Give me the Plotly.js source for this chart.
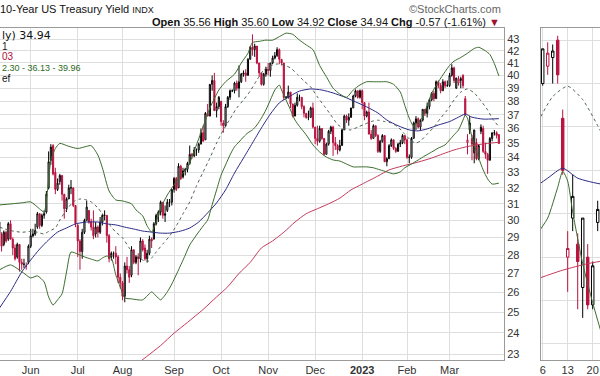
<!DOCTYPE html>
<html><head><meta charset="utf-8">
<script src="https://cdn.plot.ly/plotly-3.0.1.min.js"></script>
<style>html,body{margin:0;padding:0;background:#fff;}#chart{width:600px;height:376px;}</style>
</head><body><div id="chart"></div>
<script>
// ---- Daily candles: $TNX (yield x10) ----
const dates = [
'2022-05-11','2022-05-12','2022-05-13','2022-05-16','2022-05-17','2022-05-18','2022-05-19','2022-05-20','2022-05-23','2022-05-24','2022-05-25','2022-05-26','2022-05-27','2022-05-31',
'2022-06-01','2022-06-02','2022-06-03','2022-06-06','2022-06-07','2022-06-08','2022-06-09','2022-06-10','2022-06-13','2022-06-14','2022-06-15','2022-06-16','2022-06-17','2022-06-21','2022-06-22','2022-06-23','2022-06-24','2022-06-27','2022-06-28','2022-06-29','2022-06-30',
'2022-07-01','2022-07-05','2022-07-06','2022-07-07','2022-07-08','2022-07-11','2022-07-12','2022-07-13','2022-07-14','2022-07-15','2022-07-18','2022-07-19','2022-07-20','2022-07-21','2022-07-22','2022-07-25','2022-07-26','2022-07-27','2022-07-28','2022-07-29',
'2022-08-01','2022-08-02','2022-08-03','2022-08-04','2022-08-05','2022-08-08','2022-08-09','2022-08-10','2022-08-11','2022-08-12','2022-08-15','2022-08-16','2022-08-17','2022-08-18','2022-08-19','2022-08-22','2022-08-23','2022-08-24','2022-08-25','2022-08-26','2022-08-29','2022-08-30','2022-08-31',
'2022-09-01','2022-09-02','2022-09-06','2022-09-07','2022-09-08','2022-09-09','2022-09-12','2022-09-13','2022-09-14','2022-09-15','2022-09-16','2022-09-19','2022-09-20','2022-09-21','2022-09-22','2022-09-23','2022-09-26','2022-09-27','2022-09-28','2022-09-29','2022-09-30',
'2022-10-03','2022-10-04','2022-10-05','2022-10-06','2022-10-07','2022-10-10','2022-10-11','2022-10-12','2022-10-13','2022-10-14','2022-10-17','2022-10-18','2022-10-19','2022-10-20','2022-10-21','2022-10-24','2022-10-25','2022-10-26','2022-10-27','2022-10-28','2022-10-31',
'2022-11-01','2022-11-02','2022-11-03','2022-11-04','2022-11-07','2022-11-08','2022-11-09','2022-11-10','2022-11-11','2022-11-14','2022-11-15','2022-11-16','2022-11-17','2022-11-18','2022-11-21','2022-11-22','2022-11-23','2022-11-25','2022-11-28','2022-11-29','2022-11-30',
'2022-12-01','2022-12-02','2022-12-05','2022-12-06','2022-12-07','2022-12-08','2022-12-09','2022-12-12','2022-12-13','2022-12-14','2022-12-15','2022-12-16','2022-12-19','2022-12-20','2022-12-21','2022-12-22','2022-12-23','2022-12-27','2022-12-28','2022-12-29','2022-12-30',
'2023-01-03','2023-01-04','2023-01-05','2023-01-06','2023-01-09','2023-01-10','2023-01-11','2023-01-12','2023-01-13','2023-01-17','2023-01-18','2023-01-19','2023-01-20','2023-01-23','2023-01-24','2023-01-25','2023-01-26','2023-01-27','2023-01-30','2023-01-31',
'2023-02-01','2023-02-02','2023-02-03','2023-02-06','2023-02-07','2023-02-08','2023-02-09','2023-02-10','2023-02-13','2023-02-14','2023-02-15','2023-02-16','2023-02-17','2023-02-21','2023-02-22','2023-02-23','2023-02-24','2023-02-27','2023-02-28',
'2023-03-01','2023-03-02','2023-03-03','2023-03-06','2023-03-07','2023-03-08','2023-03-09','2023-03-10','2023-03-13','2023-03-14','2023-03-15','2023-03-16','2023-03-17','2023-03-20','2023-03-21','2023-03-22','2023-03-23','2023-03-24','2023-03-27','2023-03-28','2023-03-29','2023-03-30','2023-03-31'
];
const openV = [
29.9,29.2,28.6,29.3,28.9,29.8,28.9,28.4,27.9,28.6,27.6,27.5,27.4,27.6,
28.5,29.2,29.2,29.6,30.4,29.7,30.3,30.5,32.0,33.8,34.8,33.0,31.9,32.4,32.8,31.6,30.7,31.3,32.0,32.0,30.9,
29.7,28.8,28.2,29.3,30.0,30.6,29.9,29.6,29.2,29.6,29.3,29.9,30.3,30.3,29.1,27.9,28.1,28.1,27.9,26.8,
26.5,25.8,27.4,27.2,26.9,28.3,27.6,27.9,27.8,28.8,28.4,27.8,28.1,28.9,28.9,29.8,30.3,30.5,31.1,30.3,30.6,31.1,31.1,
31.9,32.6,32.0,33.4,32.7,33.1,33.2,33.6,34.2,34.1,34.5,34.5,34.9,35.7,35.2,37.1,36.9,39.3,39.6,37.3,37.6,
38.0,36.4,36.2,37.6,38.3,38.8,38.8,39.4,39.0,39.5,40.1,40.2,40.0,41.3,42.3,42.1,42.4,41.0,40.2,39.3,40.1,
40.5,40.4,41.0,41.4,41.6,42.1,41.3,41.0,38.3,38.3,38.7,37.8,36.9,37.7,38.3,38.3,37.6,37.1,36.8,36.8,37.5,
36.1,35.3,35.1,36.0,35.3,34.2,34.9,35.8,36.1,35.0,34.8,34.5,34.8,35.9,36.9,36.6,36.8,37.5,38.4,38.8,38.3,
38.8,37.9,36.9,37.2,35.6,35.3,36.2,35.5,34.4,35.1,35.5,33.7,33.9,34.8,35.2,34.6,34.4,34.9,35.0,35.5,
35.2,34.0,34.0,35.3,36.4,36.7,36.1,36.6,37.4,37.1,37.6,38.1,38.6,38.2,39.5,39.2,38.8,39.5,39.2,
39.2,40.0,40.6,39.0,39.4,39.6,40.0,38.2,35.0,35.9,35.3,34.3,35.0,33.9,35.8,36.0,34.4,34.2,33.8,35.3,35.7,35.7,35.56
];
const highV = [
30.1,29.3,29.4,29.4,29.9,30.0,29.0,28.6,28.7,28.6,27.8,27.8,27.6,28.6,
29.5,29.5,29.8,30.5,30.4,30.4,30.6,31.8,34.4,34.9,34.9,33.3,32.6,32.9,32.8,31.6,31.4,32.2,32.5,32.0,30.9,
29.8,28.9,29.5,30.1,31.2,30.6,30.1,30.6,29.9,29.7,30.2,30.4,30.6,30.3,29.2,28.2,28.2,28.5,28.0,27.0,
26.6,27.6,27.9,27.4,28.5,28.3,28.0,28.1,29.0,28.9,28.6,28.3,29.1,29.0,29.9,30.4,30.6,31.2,31.1,30.9,31.3,31.3,31.9,
32.7,32.7,33.6,33.5,33.3,33.3,33.7,34.8,34.3,34.7,34.6,35.0,36.0,36.2,37.2,37.8,39.3,40.0,40.2,37.9,38.4,
38.0,36.6,37.8,38.4,38.9,38.9,39.5,39.6,40.8,40.2,40.4,40.5,41.4,42.4,43.4,42.6,42.4,41.0,40.2,40.2,40.7,
41.0,41.0,41.6,41.9,42.3,42.2,41.3,41.0,38.4,39.2,38.7,37.8,37.9,38.6,38.5,38.3,37.7,37.1,37.3,37.6,37.9,
36.1,36.2,36.2,36.0,35.3,35.0,35.9,36.2,36.2,35.4,34.9,35.2,36.0,37.0,37.0,37.1,37.5,38.5,38.9,38.8,38.9,
38.9,37.9,37.3,37.9,35.9,36.3,36.2,35.6,35.2,35.6,35.5,34.0,34.9,35.3,35.2,34.7,35.0,35.2,35.6,35.5,
35.3,34.2,35.4,36.5,36.9,36.8,36.7,37.4,37.4,37.9,38.2,38.7,38.8,39.6,39.6,39.4,39.7,39.6,39.6,
40.2,40.9,40.7,39.8,39.95,39.9,40.1,38.4,35.6,36.9,35.55,35.9,35.3,34.9,36.3,36.2,35.0,34.3,35.4,35.7,35.9,35.8,35.60
];
const lowV = [
29.1,28.2,28.5,28.7,28.8,28.9,28.0,27.7,27.8,27.1,27.2,27.3,27.2,27.5,
28.4,29.0,29.1,29.5,29.5,29.6,30.1,30.4,31.9,33.5,32.8,31.6,31.8,32.2,31.2,30.1,30.5,31.3,31.6,30.8,29.6,
27.9,27.2,27.8,29.2,30.0,29.8,29.4,28.9,29.0,29.0,29.2,29.7,30.0,28.7,27.6,27.7,27.8,27.5,26.5,26.2,
25.6,25.5,27.0,26.5,26.8,27.5,27.5,26.9,27.6,28.2,27.7,27.6,28.0,28.4,28.9,29.7,29.9,30.3,30.1,29.9,30.5,30.8,30.9,
31.7,31.8,32.0,32.5,32.6,32.8,33.0,33.5,33.9,34.0,34.1,34.3,34.9,35.1,35.2,36.9,36.9,38.8,37.3,36.8,37.4,
36.2,35.7,36.1,37.5,38.1,38.7,38.6,38.8,38.3,39.4,39.9,39.5,40.0,41.3,41.6,41.5,40.9,39.9,39.2,39.2,39.9,
40.0,39.9,40.9,41.3,41.5,40.9,40.8,38.1,38.2,38.2,37.5,36.8,36.9,37.6,38.0,37.4,36.8,36.7,36.6,36.8,36.0,
34.9,34.8,35.0,35.2,34.1,34.2,34.8,35.6,34.1,34.5,34.2,34.4,34.8,35.9,36.4,36.2,36.8,37.5,38.3,38.2,38.2,
37.4,36.6,36.8,35.6,35.2,35.3,35.4,34.3,34.3,35.0,33.7,33.4,33.9,34.7,34.5,34.3,34.4,34.7,34.9,34.9,
33.9,33.6,33.9,35.3,35.9,36.0,35.9,36.5,36.9,36.8,37.4,38.0,38.0,38.2,39.0,38.6,38.8,39.0,39.1,
39.1,39.9,39.4,38.95,39.2,39.0,39.0,36.9,34.2,35.6,33.8,33.6,33.8,33.8,35.6,34.3,33.9,32.9,33.8,35.1,35.5,35.3,34.92
];
const closeV = [
29.2,28.5,29.3,28.8,29.8,28.9,28.4,27.8,28.6,27.6,27.5,27.5,27.4,28.5,
29.1,29.1,29.4,30.4,29.7,30.3,30.4,31.6,33.7,34.7,32.9,31.9,32.3,32.8,31.6,30.7,31.3,32.0,32.0,30.9,29.8,
28.8,28.2,29.3,30.0,30.8,29.9,29.6,29.1,29.6,29.3,29.9,30.3,30.3,29.1,27.8,28.1,28.1,27.9,26.8,26.5,
25.8,27.4,27.2,26.8,28.3,27.6,27.9,27.8,28.8,28.3,27.8,28.1,28.9,28.8,29.8,30.3,30.5,31.1,30.3,30.4,31.1,31.1,31.9,
32.6,31.9,33.4,32.6,33.1,33.2,33.6,34.2,34.1,34.5,34.5,34.9,35.7,35.1,37.1,36.9,39.3,39.6,37.3,37.6,38.3,
36.5,36.2,37.6,38.3,38.8,38.8,39.4,39.0,39.5,40.1,40.2,40.0,41.3,42.3,42.1,42.4,41.0,40.2,39.3,40.1,40.5,
40.4,41.0,41.4,41.6,42.1,41.3,41.0,38.3,38.3,38.7,37.8,36.9,37.7,38.3,38.3,37.6,37.1,36.8,36.8,37.5,36.1,
35.3,35.1,36.0,35.3,34.2,34.9,35.8,36.1,35.0,34.8,34.5,34.8,35.9,36.9,36.6,36.8,37.5,38.4,38.8,38.3,38.8,
37.9,36.9,37.2,35.6,35.3,36.2,35.5,34.4,35.1,35.5,33.7,33.9,34.8,35.2,34.6,34.4,34.9,35.0,35.5,35.2,
34.0,34.0,35.3,36.4,36.7,36.1,36.6,37.4,37.1,37.6,38.1,38.6,38.2,39.5,39.2,38.8,39.5,39.2,39.2,
40.0,40.6,39.6,39.8,39.7,39.75,39.2,37.0,35.2,36.4,34.9,35.9,33.9,34.8,36.1,34.4,34.2,33.8,35.3,35.7,35.7,35.51,34.94
];

// ---- Overlays ----
const bbUpperDates = ['2022-05-11','2022-05-25','2022-06-01','2022-06-07','2022-06-09','2022-06-13','2022-06-14','2022-06-16','2022-06-21','2022-06-27','2022-07-01','2022-07-08','2022-07-12','2022-07-15','2022-07-19','2022-07-22','2022-07-27','2022-08-01','2022-08-05','2022-08-09','2022-08-12','2022-08-16','2022-08-18','2022-08-22','2022-08-24','2022-08-29','2022-09-01','2022-09-07','2022-09-12','2022-09-16','2022-09-21','2022-09-26','2022-09-30','2022-10-05','2022-10-11','2022-10-14','2022-10-19','2022-10-21','2022-10-26','2022-10-31','2022-11-03','2022-11-08','2022-11-11','2022-11-16','2022-11-21','2022-11-25','2022-11-30','2022-12-05','2022-12-08','2022-12-13','2022-12-16','2022-12-21','2022-12-27','2022-12-30','2023-01-05','2023-01-10','2023-01-13','2023-01-19','2023-01-24','2023-01-27','2023-01-31','2023-02-02','2023-02-06','2023-02-08','2023-02-10','2023-02-14','2023-02-16','2023-02-22','2023-02-27','2023-03-01','2023-03-03','2023-03-08','2023-03-13','2023-03-16','2023-03-20','2023-03-23','2023-03-27','2023-03-29','2023-03-31'];
const bbUpper = [30.93,31.06,31.12,30.69,30.5,32.5,33.8,34.6,34.95,34.75,34.6,34.75,34.8,34.15,33.3,31.8,31.24,31.18,31.0,30.63,30.27,29.67,29.31,29.9,30.75,31.55,32.2,32.8,33.3,34.85,36.15,37.5,38.86,39.5,40.1,41.0,41.8,42.7,42.8,42.9,42.9,43.2,43.5,43.4,42.9,42.5,42.1,40.8,39.9,39.0,38.55,38.3,38.86,39.25,39.5,39.5,39.5,39.5,39.3,38.7,37.7,36.75,36.15,36.5,36.8,37.7,38.6,39.5,40.3,40.8,41.15,41.45,41.8,42.2,42.3,42.0,41.7,40.95,39.96];

const bbLowerDates = ['2022-05-11','2022-05-18','2022-05-25','2022-06-01','2022-06-06','2022-06-09','2022-06-13','2022-06-15','2022-06-17','2022-06-22','2022-06-24','2022-06-28','2022-07-01','2022-07-07','2022-07-12','2022-07-15','2022-07-19','2022-07-21','2022-07-25','2022-07-27','2022-07-29','2022-08-02','2022-08-05','2022-08-10','2022-08-12','2022-08-16','2022-08-18','2022-08-22','2022-08-24','2022-08-29','2022-08-31','2022-09-06','2022-09-09','2022-09-13','2022-09-16','2022-09-21','2022-09-23','2022-09-27','2022-09-29','2022-10-03','2022-10-05','2022-10-07','2022-10-11','2022-10-13','2022-10-17','2022-10-19','2022-10-21','2022-10-25','2022-10-27','2022-10-31','2022-11-02','2022-11-04','2022-11-08','2022-11-09','2022-11-11','2022-11-15','2022-11-17','2022-11-21','2022-11-25','2022-11-30','2022-12-05','2022-12-08','2022-12-13','2022-12-16','2022-12-21','2022-12-27','2022-12-30','2023-01-05','2023-01-10','2023-01-13','2023-01-19','2023-01-24','2023-01-27','2023-01-31','2023-02-03','2023-02-08','2023-02-13','2023-02-16','2023-02-22','2023-02-27','2023-03-01','2023-03-03','2023-03-07','2023-03-09','2023-03-10','2023-03-13','2023-03-14','2023-03-16','2023-03-20','2023-03-22','2023-03-24','2023-03-28','2023-03-31'];
const bbLower = [27.19,27.46,27.1,26.76,26.87,26.55,25.77,25.36,25.62,25.93,27.08,28.17,28.06,27.9,27.78,27.68,27.84,27.95,27.84,26.92,26.28,25.72,25.67,25.62,25.62,25.82,26.03,25.82,25.62,26.03,26.44,27.19,28.0,28.57,29.14,29.67,30.02,30.94,31.87,32.82,33.49,34.16,34.72,35.05,35.4,35.7,35.9,36.25,36.75,37.35,38.1,38.86,39.25,38.86,38.1,37.35,36.61,36.15,35.55,34.85,34.36,34.02,33.82,33.75,33.55,33.36,33.36,33.36,33.3,33.16,33.03,32.9,33.03,33.3,33.55,33.82,34.1,34.36,34.63,34.85,35.19,35.55,35.9,36.61,36.98,36.75,36.04,34.85,33.95,33.16,32.57,32.24,32.30];

const bbMidDates = ['2022-05-11','2022-05-18','2022-05-25','2022-06-01','2022-06-06','2022-06-09','2022-06-13','2022-06-16','2022-06-21','2022-06-24','2022-06-29','2022-07-05','2022-07-08','2022-07-12','2022-07-15','2022-07-19','2022-07-21','2022-07-25','2022-07-27','2022-08-01','2022-08-04','2022-08-09','2022-08-12','2022-08-16','2022-08-18','2022-08-22','2022-08-25','2022-08-30','2022-09-02','2022-09-08','2022-09-13','2022-09-16','2022-09-21','2022-09-26','2022-09-29','2022-10-04','2022-10-07','2022-10-12','2022-10-17','2022-10-20','2022-10-25','2022-10-28','2022-11-02','2022-11-07','2022-11-10','2022-11-15','2022-11-18','2022-11-23','2022-11-29','2022-12-02','2022-12-07','2022-12-12','2022-12-15','2022-12-20','2022-12-23','2022-12-29','2023-01-04','2023-01-09','2023-01-12','2023-01-18','2023-01-23','2023-01-26','2023-01-31','2023-02-03','2023-02-07','2023-02-09','2023-02-14','2023-02-17','2023-02-23','2023-02-28','2023-03-03','2023-03-08','2023-03-13','2023-03-16','2023-03-21','2023-03-24','2023-03-28','2023-03-31'];
const bbMid = [29.6,29.4,29.3,29.35,29.3,29.2,29.35,29.55,30.02,30.63,31.12,31.3,31.24,31.12,30.75,30.39,30.02,29.6,29.31,28.98,28.4,27.95,27.73,27.62,27.84,28.17,28.63,29.08,29.67,30.39,31.12,32.12,33.03,33.95,34.98,35.9,36.7,37.5,38.1,38.78,39.64,40.43,40.76,40.92,40.84,40.6,40.1,39.56,39.1,38.33,37.66,36.98,36.3,35.97,35.9,36.1,36.3,36.5,36.6,36.5,36.4,36.1,35.6,35.12,34.98,35.12,35.6,36.1,36.75,37.35,38.1,38.7,38.94,38.63,38.03,37.35,36.75,36.13];

const ma50Dates = ['2022-05-11','2022-05-18','2022-05-25','2022-06-01','2022-06-07','2022-06-13','2022-06-17','2022-06-24','2022-06-30','2022-07-08','2022-07-15','2022-07-21','2022-07-27','2022-08-02','2022-08-08','2022-08-12','2022-08-18','2022-08-24','2022-08-30','2022-09-07','2022-09-13','2022-09-19','2022-09-23','2022-09-29','2022-10-05','2022-10-11','2022-10-17','2022-10-21','2022-10-27','2022-11-02','2022-11-08','2022-11-15','2022-11-21','2022-11-29','2022-12-06','2022-12-13','2022-12-20','2022-12-28','2023-01-05','2023-01-12','2023-01-19','2023-01-26','2023-02-02','2023-02-08','2023-02-14','2023-02-22','2023-03-01','2023-03-07','2023-03-10','2023-03-15','2023-03-22','2023-03-31'];
const ma50 = [25.2,26.05,27.08,27.73,28.34,28.86,29.31,29.55,29.79,29.9,29.9,29.79,29.73,29.6,29.49,29.37,29.31,29.25,29.25,29.37,29.55,29.9,30.45,31.06,31.87,32.96,33.95,34.98,36.04,37.05,37.88,38.41,38.78,38.94,38.86,38.63,38.33,37.96,37.58,37.13,36.61,36.2,35.9,35.83,35.97,36.25,36.5,36.82,37.05,36.82,36.68,36.71];

const ma200Dates = ['2022-08-10','2022-08-24','2022-09-01','2022-09-12','2022-09-21','2022-09-29','2022-10-06','2022-10-13','2022-10-20','2022-10-27','2022-11-03','2022-11-10','2022-11-17','2022-11-25','2022-12-02','2022-12-09','2022-12-16','2022-12-23','2023-01-03','2023-01-12','2023-01-20','2023-01-30','2023-02-08','2023-02-16','2023-02-24','2023-03-03','2023-03-10','2023-03-17','2023-03-24','2023-03-31'];
const ma200 = [22.6,23.4,23.98,24.5,25.14,25.77,26.3,27.0,27.6,28.4,28.8,29.3,29.9,30.4,30.7,31.0,31.35,31.87,32.24,32.76,33.16,33.42,33.68,33.95,34.23,34.5,34.7,34.85,34.95,35.03];

// ---- Axis labels and visible legend text ----
const monthTicks = ['2022-06-01','2022-07-01','2022-08-01','2022-09-01','2022-10-03','2022-11-01','2022-12-01','2023-01-03','2023-02-01','2023-03-01'];
const monthLabels = ['Jun','Jul','Aug','Sep','Oct','Nov','Dec','<b>2023</b>','Feb','Mar'];
const yTicks = [23,24,25,26,27,28,29,30,31,32,33,34,35,36,37,38,39,40,41,42,43];
const dayTicks = ['2023-03-06','2023-03-13','2023-03-20'];
const dayLabels = ['6','13','20'];
const legendLines = ['ly) 34.94', '1', '03', '2.30 - 36.13 - 39.96', 'ef'];

// ---- styling ----
const RED = '#b8123e', BLACK = '#000000';
const GREEN = '#3b6b2c', MIDC = '#4f6650', BLUE = '#2b2b86', MA200C = '#c23b5c';
const GRID = '#dedede', AXL = '#9a9a9a';
const FONT = 'Liberation Sans, Arial, sans-serif';

// split candles: red when close below previous close, black otherwise
const redIdx = [], blackIdx = [];
closeV.forEach((c, i) => { if (i > 0 && c < closeV[i-1]) redIdx.push(i); else blackIdx.push(i); });

function candles(idx, color, xa, ya) {
  return {
    type: 'candlestick', xaxis: xa, yaxis: ya,
    x: idx.map(i => dates[i]), open: idx.map(i => openV[i]), high: idx.map(i => highV[i]),
    low: idx.map(i => lowV[i]), close: idx.map(i => closeV[i]),
    increasing: {line: {color: color, width: 1}, fillcolor: '#ffffff'},
    decreasing: {line: {color: color, width: 1}, fillcolor: color},
    whiskerwidth: 0, hoverinfo: 'skip', showlegend: false
  };
}
function line(x, y, color, dash, xa, ya) {
  return {type: 'scatter', mode: 'lines', x: x, y: y, xaxis: xa, yaxis: ya,
    line: {color: color, width: 1, dash: dash, shape: 'spline', smoothing: 0.6},
    hoverinfo: 'skip', showlegend: false};
}

const traces = [];
[['x','y'],['x2','y2']].forEach(([xa, ya]) => {
  traces.push(line(ma200Dates, ma200, MA200C, 'solid', xa, ya));
  traces.push(line(ma50Dates, ma50, BLUE, 'solid', xa, ya));
  traces.push(line(bbMidDates, bbMid, MIDC, 'dot', xa, ya));
  traces.push(line(bbUpperDates, bbUpper, GREEN, 'solid', xa, ya));
  traces.push(line(bbLowerDates, bbLower, GREEN, 'solid', xa, ya));
  traces.push(candles(blackIdx, BLACK, xa, ya));
  traces.push(candles(redIdx, RED, xa, ya));
});

const W = 600, PT = 28, PB = 360;
const py = p => (PB - p) / (PB - PT);   // pixel row -> paper y
const px = p => p / W;                  // pixel col -> paper x

function note(text, x, y, anchor, size, color, family) {
  return {xref: 'paper', yref: 'paper', x: px(x), y: py(y), xanchor: anchor, yanchor: 'middle',
    showarrow: false, text: text, font: {size: size, color: color, family: family || FONT}};
}

const layout = {
  width: 600, height: 376,
  margin: {l: 0, r: 0, t: PT, b: 376 - PB},
  paper_bgcolor: '#ffffff', plot_bgcolor: '#ffffff',
  font: {family: FONT, size: 11, color: '#222'},
  showlegend: false,
  xaxis: {
    type: 'category', categoryorder: 'array', categoryarray: dates,
    domain: [0, px(504)], range: [0.3, 225.3], anchor: 'y',
    tickmode: 'array', tickvals: monthTicks, ticktext: monthLabels,
    showgrid: true, gridcolor: GRID, gridwidth: 1, ticks: '',
    tickfont: {size: 11, color: '#333'},
    showline: true, linecolor: AXL, linewidth: 1, mirror: true,
    rangeslider: {visible: false}, fixedrange: true
  },
  yaxis: {
    type: 'log', range: [1.356744, 1.642951], side: 'right', anchor: 'x',
    tickmode: 'array', tickvals: yTicks, ticktext: yTicks.map(String),
    showgrid: true, gridcolor: GRID, ticks: '', zeroline: false,
    tickfont: {size: 11, color: '#333'},
    showline: true, linecolor: AXL, linewidth: 1, fixedrange: true
  },
  xaxis2: {
    type: 'category', categoryorder: 'array', categoryarray: dates,
    domain: [px(540.7), 1], range: [203.6, 215.46], anchor: 'y2',
    tickmode: 'array', tickvals: dayTicks, ticktext: dayLabels,
    showgrid: true, gridcolor: GRID, ticks: '',
    tickfont: {size: 11, color: '#333'},
    showline: true, linecolor: AXL, linewidth: 1, mirror: true,
    rangeslider: {visible: false}, fixedrange: true
  },
  yaxis2: {
    type: 'linear', range: [32.63, 40.28], anchor: 'x2', dtick: 1,
    showticklabels: false, showgrid: true, gridcolor: GRID, zeroline: false, ticks: '',
    showline: true, linecolor: AXL, linewidth: 1, fixedrange: true
  },
  annotations: [
    note('10-Year US Treasury Yield <span style="font-size:9px">INDX</span>', -2, 9, 'left', 11, '#111'),
    note('©StockCharts.com', 503, 9, 'right', 11, '#666'),
    note('<b>Open</b> 35.56 <b>High</b> 35.60 <b>Low</b> 34.92 <b>Close</b> 34.94 <b>Chg</b> -0.57 (-1.61%) <span style="color:#a01030">▼</span>',
         502, 22, 'right', 11, '#111'),
    note(legendLines[0], 0, 35, 'left', 11, '#111', 'DejaVu Sans, sans-serif'),
    note(legendLines[1], 0, 46, 'left', 10, '#222'),
    note(legendLines[2], 0, 57, 'left', 10, '#b0103a'),
    note(legendLines[3], 0, 68, 'left', 9, '#2e6a1e'),
    note(legendLines[4], 0, 78, 'left', 10, '#111')
  ]
};

Plotly.newPlot('chart', traces, layout, {staticPlot: true, displayModeBar: false});
</script></body></html>
